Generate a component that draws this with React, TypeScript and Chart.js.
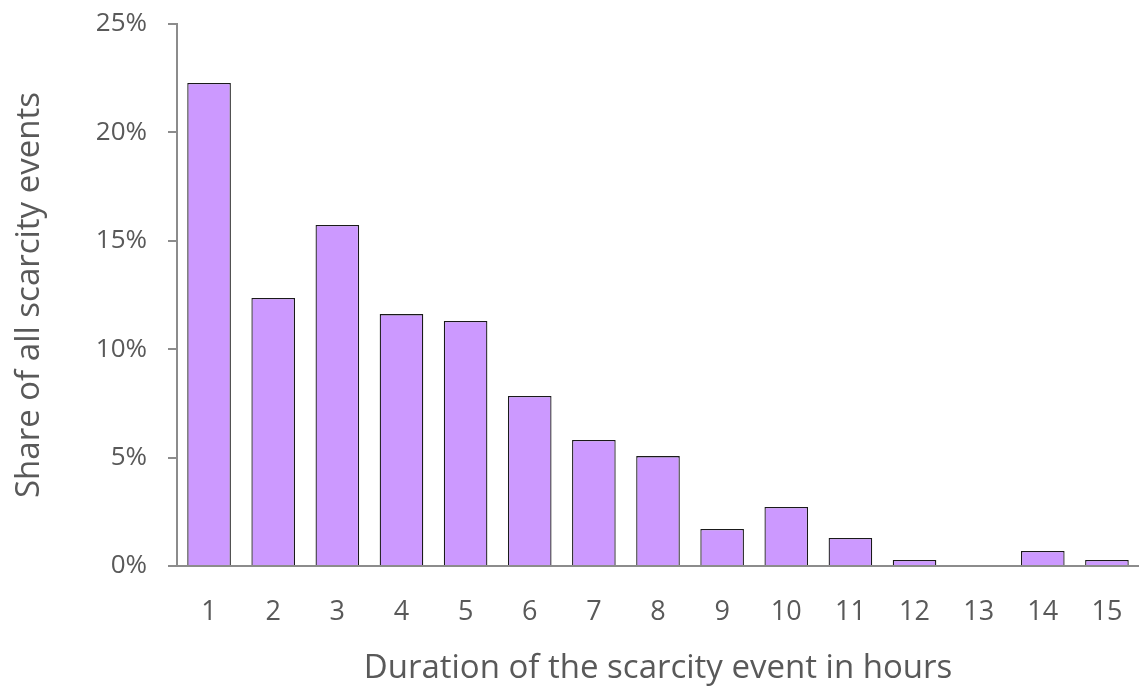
import React, { useEffect, useRef } from "react";
import { Chart, registerables } from "chart.js";

Chart.register(...registerables);

const categories = ["1", "2", "3", "4", "5", "6", "7", "8", "9", "10", "11", "12", "13", "14", "15"];
const shares = [22.28, 12.36, 15.73, 11.62, 11.3, 7.84, 5.81, 5.07, 1.71, 2.72, 1.29, 0.28, 0, 0.69, 0.28];
const yTicks = [0, 5, 10, 15, 20, 25];

const FONT = "'Open Sans', 'DejaVu Sans', sans-serif";
const TEXT = "#595959";
const AXIS = "#8c8c8c";

export default function App() {
  const ref = useRef<HTMLCanvasElement>(null);
  useEffect(() => {
    document.body.style.margin = "0";
    const chart = new Chart(ref.current!, {
      type: "bar",
      data: {
        labels: categories,
        datasets: [
          {
            data: shares,
            backgroundColor: "#cc99ff",
            borderColor: "#1a1a1a",
            borderWidth: 1.3,
            barPercentage: 0.68,
            categoryPercentage: 1,
          },
        ],
      },
      options: {
        animation: false,
        responsive: false,
        maintainAspectRatio: false,
        layout: { padding: { top: 24, right: -3, left: 0, bottom: 0 } },
        plugins: { legend: { display: false }, tooltip: { enabled: false } },
        scales: {
          x: {
            grid: { display: false },
            border: { display: true, color: AXIS, width: 2 },
            ticks: { color: TEXT, font: { family: FONT, size: 27 }, padding: 22 },
            title: {
              display: true,
              text: "Duration of the scarcity event in hours",
              color: TEXT,
              font: { family: FONT, size: 33 },
              padding: { top: 8, bottom: 0 },
            },
            afterFit: (s: any) => {
              s.height = 122;
              s.paddingLeft = 0;
              s.paddingRight = 0;
            },
          },
          y: {
            min: 0,
            max: 25,
            afterBuildTicks: (s: any) => {
              s.ticks = yTicks.map((v) => ({ value: v }));
            },
            grid: { drawOnChartArea: false, drawTicks: true, tickLength: 9, color: AXIS, lineWidth: 2 },
            border: { display: true, color: AXIS, width: 2 },
            ticks: {
              color: TEXT,
              font: { family: FONT, size: 26 },
              padding: 21,
              callback: (v: any) => v + "%",
            },
            title: {
              display: true,
              text: "Share of all scarcity events",
              color: TEXT,
              font: { family: FONT, size: 33 },
              padding: { top: 10, bottom: 0 },
            },
            afterFit: (s: any) => {
              s.width = 177;
              s.paddingTop = 0;
              s.paddingBottom = 0;
            },
          },
        },
      },
    });
    return () => chart.destroy();
  }, []);
  return (
    <div style={{ position: "absolute", left: 0, top: 0, width: 1139, height: 688, overflow: "hidden" }}>
      <canvas ref={ref} width={1139} height={688} style={{ width: 1139, height: 688, display: "block" }} />
    </div>
  );
}
